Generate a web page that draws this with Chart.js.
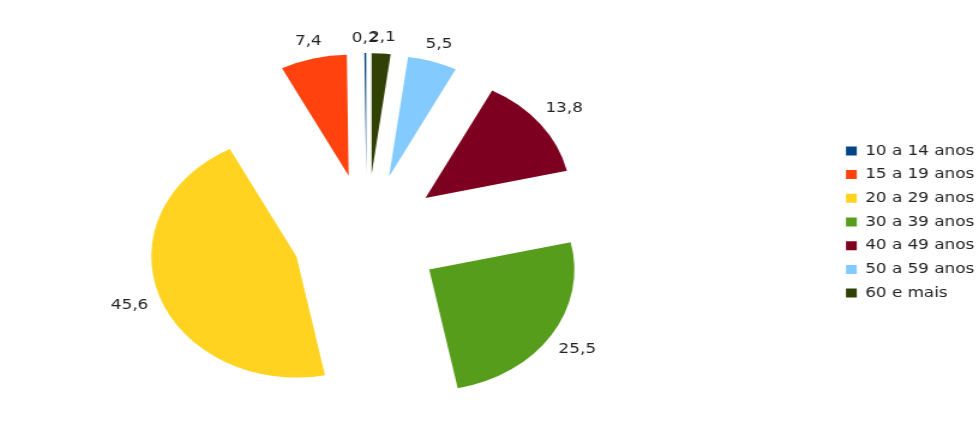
<!DOCTYPE html>
<html>
<head>
<meta charset="utf-8">
<script src="https://cdn.jsdelivr.net/npm/chart.js@4.4.1/dist/chart.umd.min.js"></script>
<style>
  html, body { margin: 0; padding: 0; background: #fff; overflow: hidden; }
  /* the original picture is stretched sideways, so is this one */
  #wrap { position: relative; left: -100.8px; width: 906px; height: 428px; transform: scaleX(1.2); transform-origin: 0 0; }
</style>
</head>
<body>
<div id="wrap"><canvas id="faixa-etaria"></canvas></div>
<script>
var categorias = ['10 a 14 anos', '15 a 19 anos', '20 a 29 anos', '30 a 39 anos', '40 a 49 anos', '50 a 59 anos', '60 e mais'];
var percentuais = [0.2, 7.4, 45.6, 25.5, 13.8, 5.5, 2.1];
var cores = ['#004586', '#ff420e', '#ffd320', '#579d1c', '#7e0021', '#83caff', '#314004'];

var DESTAQUE = 62;   // how far each slice is pulled out
var RAIO = 121;

// slices run counter-clockwise in the original, so feed them reversed
var rotulosGrafico = categorias.slice().reverse();
var valoresGrafico = percentuais.slice().reverse();
var coresGrafico = cores.slice().reverse();

var fatiasSeparadas = {
    id: 'fatiasSeparadas',
    beforeDatasetDraw: function (chart, args) {
        var ctx = chart.ctx;
        args.meta.data.forEach(function (arc) {
            var meio = (arc.startAngle + arc.endAngle) / 2;
            ctx.save();
            ctx.translate(Math.cos(meio) * DESTAQUE, Math.sin(meio) * DESTAQUE);
            arc.draw(ctx);
            ctx.restore();
        });
        return false;
    },
    afterDatasetsDraw: function (chart) {
        var ctx = chart.ctx;
        var meta = chart.getDatasetMeta(0);
        var valores = chart.data.datasets[0].data;
        ctx.save();
        ctx.font = '14px "DejaVu Sans"';
        ctx.fillStyle = '#222';
        ctx.textAlign = 'center';
        ctx.textBaseline = 'middle';
        meta.data.forEach(function (arc, i) {
            var meio = (arc.startAngle + arc.endAngle) / 2;
            var txt = valores[i].toFixed(1).replace('.', ',');
            var w = ctx.measureText(txt).width;
            var dx = Math.cos(meio), dy = Math.sin(meio);
            var d = DESTAQUE + arc.outerRadius + 10 + Math.abs(dx) * w / 2 + Math.abs(dy) * 5;
            ctx.fillText(txt, arc.x + dx * d, arc.y + dy * d);
        });
        ctx.restore();
    }
};

var ctx = document.getElementById('faixa-etaria').getContext('2d');
var chart = new Chart(ctx, {
    type: 'pie',
    data: {
        labels: rotulosGrafico,
        datasets: [{
            data: valoresGrafico,
            backgroundColor: coresGrafico,
            borderWidth: 0
        }]
    },
    options: {
        responsive: true,
        maintainAspectRatio: false,
        animation: false,
        events: [],
        radius: RAIO,
        layout: {
            padding: { top: 16, left: 0, right: 0, bottom: 0 }
        },
        plugins: {
            title: {
                display: true,
                text: ' ',
                font: { size: 12, lineHeight: 1 },
                padding: { top: 16, bottom: 0 }
            },
            legend: {
                position: 'right',
                reverse: true,
                labels: {
                    boxWidth: 9,
                    boxHeight: 9,
                    padding: 9.7,
                    color: '#222',
                    font: { family: 'DejaVu Sans', size: 14 }
                }
            },
            tooltip: { enabled: false }
        }
    },
    plugins: [fatiasSeparadas]
});
</script>
</body>
</html>
